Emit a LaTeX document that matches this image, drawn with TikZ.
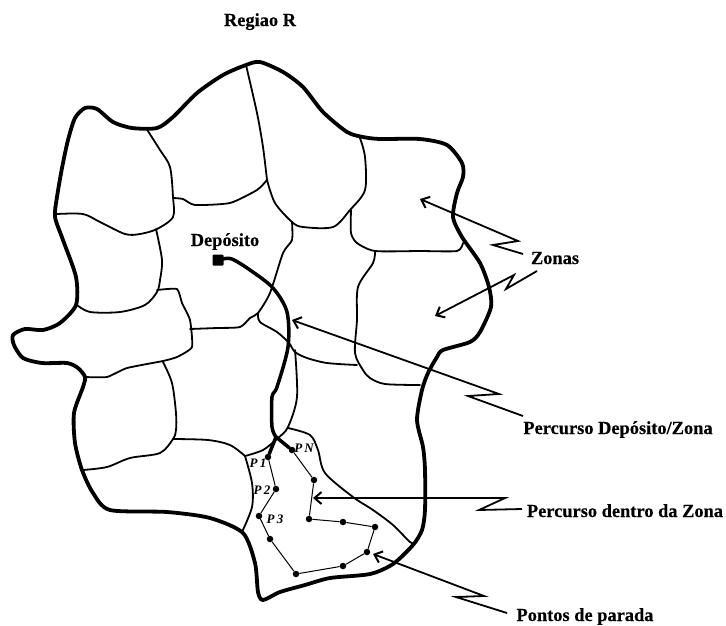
\documentclass[tikz,border=0pt]{standalone}
\usepackage{fontspec}
\setmainfont[BoldFeatures={FakeBold=0.35}]{Liberation Serif}
\usetikzlibrary{arrows.meta}
\tikzset{
  border/.style={line width=3.8pt,line join=round,line cap=round},
  zoneline/.style={line width=1.8pt,line join=round,line cap=round},
  route/.style={line width=3.5pt,line join=round,line cap=round},
  tour/.style={line width=1pt},
  stopdot/.style={circle,fill=black,inner sep=0pt,minimum size=6.5pt},
  callout/.style={line width=1.8pt,line join=miter,{Straight Barb[length=7pt,width=12pt,line width=2pt]}-},
  lab/.style={font=\fontsize{18.4}{20}\selectfont\bfseries,anchor=base,inner sep=0pt},
  plab/.style={font=\fontsize{13}{14}\selectfont\bfseries\itshape,inner sep=0pt},
}
\begin{document}
\begin{tikzpicture}[x=1pt,y=-1pt]
\useasboundingbox (0,0) rectangle (726,625);
% outer border
\draw[border] plot[smooth cycle,tension=0.45] coordinates {
(246,65)(260,62)(283,72)(303,87)(323,112)(347,132)(363,137)(380,139)(420,139)(447,145)(462,163)(463,177)(457,193)(453,217)(462,237)(480,263)(489,287)(491,307)(480,332)(470,342)(443,350)(437,357)(428,373)(422,390)(417,420)(423,447)(425,470)(425,510)(422,530)(413,545)(393,564)(370,574)(330,578)(305,585)(280,592)(263,600)(258,592)(255,563)(243,533)(210,518)(167,512)(110,510)(93,493)(82,470)(75,443)(74,413)(83,387)(85,377)(78,368)(67,363)(42,363)(23,358)(14,345)(13,335)(25,329)(43,330)(60,323)(76,305)(76,277)(63,240)(55,217)(57,197)(62,168)(68,140)(75,118)(85,108)(97,109)(113,122)(132,128)(157,128)(173,117)(197,93)(223,75)};
% zone boundaries
\draw[zoneline] plot[smooth,tension=0.5] coordinates {(146,128)(160,150)(170,167)(173,197)(173,217)(157,229)(140,234)(125,234)(100,222)(83,214)(57,214)};
\draw[zoneline] plot[smooth,tension=0.5] coordinates {(246,65)(257,113)(263,147)(267,180)};
\draw[zoneline] plot[smooth,tension=0.35] coordinates {(267,180)(257,190)(230,203)(195,205)(183,199)(173,198)};
\draw[zoneline] plot[smooth,tension=0.5] coordinates {(156,229)(162,260)(160,280)(157,292)(145,305)(120,312)(90,312)(77,305)};
\draw[zoneline] plot[smooth,tension=0.3] coordinates {(157,290)(177,289)(182,303)(190,320)(192,347)(177,357)(163,361)(127,368)(107,377)(85,377)};
\draw[zoneline] plot[smooth,tension=0.4] coordinates {(190,329)(217,328)(240,327)(250,318)(258,313)(270,293)(283,253)(292,240)(292,222)};
\draw[zoneline] plot[smooth,tension=0.5] coordinates {(267,180)(275,203)(292,222)(303,227)(333,227)(350,210)(365,190)(365,157)(360,138)};
\draw[zoneline] plot[smooth,tension=0.4] coordinates {(351,210)(351,233)(357,243)(375,251)(420,251)(457,251)(463,243)};
\draw[zoneline] plot[smooth,tension=0.5] coordinates {(375,251)(373,263)(358,287)(357,320)(355,353)(363,370)(370,378)(385,384)(420,385)};
\draw[zoneline] plot[smooth,tension=0.5] coordinates {(258,313)(260,322)(277,332)(289,343)(295,352)(307,358)(327,363)(357,365)};
\draw[zoneline] plot[smooth,tension=0.5] coordinates {(295,350)(297,397)(288,427)(278,438)(263,450)(245,456)};
\draw[zoneline] plot[smooth,tension=0.5] coordinates {(288,428)(310,435)(318,450)(325,473)(353,497)(373,510)(393,525)(410,542)(415,543)};
\draw[zoneline] plot[smooth,tension=0.5] coordinates {(245,456)(252,483)(252,507)(242,532)};
\draw[zoneline] plot[smooth,tension=0.5] coordinates {(173,439)(208,440)(230,445)(245,456)};
\draw[zoneline] plot[smooth,tension=0.5] coordinates {(163,362)(172,383)(176,413)(176,430)(173,439)(160,453)(130,458)(107,467)(83,470)};
% stops
\node[stopdot] (s1) at (268,457) {};
\node[stopdot] (s2) at (276,489) {};
\node[stopdot] (s3) at (259,516) {};
\node[stopdot] (s4) at (270,539) {};
\node[stopdot] (s5) at (296,574) {};
\node[stopdot] (s6) at (343,566) {};
\node[stopdot] (s7) at (367,552) {};
\node[stopdot] (s8) at (375,527) {};
\node[stopdot] (s9) at (343,522) {};
\node[stopdot] (s10) at (309,519) {};
\node[stopdot] (s11) at (314,480) {};
\node[stopdot] (s12) at (292,450) {};
\draw[tour] (s1)--(s2)--(s3)--(s4)--(s5)--(s6)--(s7)--(s8)--(s9)--(s10)--(s11)--(s12);
% depot and route
\node[fill=black,minimum size=11pt,inner sep=0pt,rounded corners=1pt] (depot) at (218,260) {};
\coordinate (fork) at (276,437);
\draw[route] plot[smooth,tension=0.5] coordinates {(223,259)(232,259)(250,270)(273,288)(287,312)(288,347)(277,387)(272,397)(272,427)(276,437)};
\draw[route] (fork)--(s1);
\draw[route] (fork)--(s12);
% labels
\node[lab] (regiao) at (260,26) {Regiao R};
\node[lab] (deplab) at (225,246) {Depósito};
\node[lab] (zonas) at (555,264) {Zonas};
\node[lab] (pdz) at (618,434) {Percurso Depósito/Zona};
\node[lab] (pdd) at (625,517) {Percurso dentro da Zona};
\node[lab] (ppa) at (585,621) {Pontos de parada};
\node[plab] (p1) at (258,463) {P\,1};
\node[plab] (p2) at (262,490) {P\,2};
\node[plab] (p3) at (275,519) {P\,3};
\node[plab] (pn) at (304,448) {P\,N};
% callouts
\coordinate (z1) at (420,199); \coordinate (z1e) at (523,254);
\coordinate (z2) at (435,316); \coordinate (z2e) at (537,271);
\coordinate (a3) at (292,320); \coordinate (a3e) at (523,416);
\coordinate (a4) at (313,498); \coordinate (a4e) at (522,509);
\coordinate (a5) at (373,554); \coordinate (a5e) at (507,613);
\draw[callout] (z1)--(518,241)--(493,245)--(z1e);
\draw[callout] (z2)--(514,275)--(506,289)--(z2e);
\draw[callout] (a3)--(499,394)--(468,396)--(a3e);
\draw[callout] (a4)--(505,498)--(479,510)--(a4e);
\draw[callout] (a5)--(484,596)--(456,597)--(a5e);
\end{tikzpicture}
\end{document}
